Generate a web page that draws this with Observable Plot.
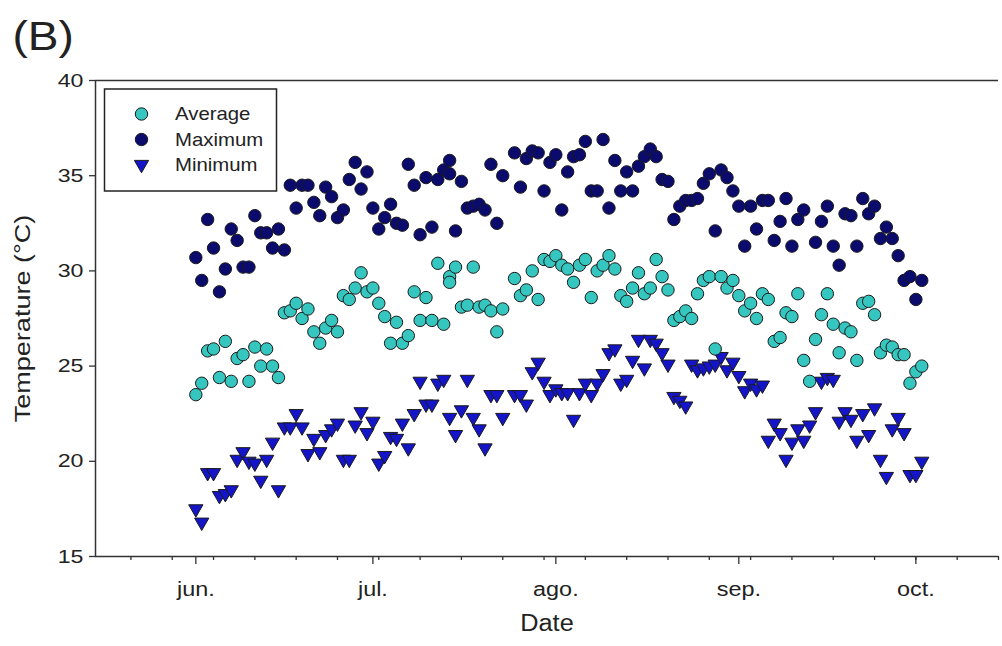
<!DOCTYPE html>
<html>
<head>
<meta charset="utf-8">
<script src="https://cdn.jsdelivr.net/npm/d3@7"></script>
<script src="https://cdn.jsdelivr.net/npm/@observablehq/plot@0.6"></script>
<style>
  html, body { margin: 0; padding: 0; background: #fff; }
  #chart { width: 1002px; height: 646px; }
</style>
</head>
<body>
<div id="chart"></div>
<script>
// ---- data (day offsets from 1 June, values in °C) ----
const startDate = "2018-06-01";
const domainStart = "2018-05-15";
const domainEnd = "2018-10-15";
const monthTicks = ["2018-06-01", "2018-07-01", "2018-08-01", "2018-09-01", "2018-10-01"];
const monthLabels = ["jun.", "jul.", "ago.", "sep.", "oct."];
const yTicks = [15, 20, 25, 30, 35, 40];
const seriesNames = ["Average", "Maximum", "Minimum"];

const maxDays = [0,1,2,3,4,5,6,7,8,9,10,11,12,13,14,15,16,17,18,19,20,21,22,23,24,25,26,27,28,29,30,31,32,33,34,35,36,37,38,39,40,41,42,43,43,44,45,46,47,48,49,50,51,52,
  54,55,56,57,58,59,60,61,62,63,64,65,66,67,68,69,70,71,72,73,74,75,76,77,78,79,80,81,82,83,84,85,86,87,88,89,90,91,92,93,94,95,96,97,98,99,100,101,102,103,
  105,106,107,108,109,110,111,112,113,114,115,116,117,118,119,120,121,122,123];
const maxVals = [30.7,29.5,32.7,31.2,28.9,30.1,32.2,31.6,30.2,30.2,32.9,32.0,32.0,31.2,32.2,31.1,34.5,33.3,34.5,34.5,33.6,32.9,34.4,33.9,32.8,33.2,34.8,35.7,34.3,35.2,33.3,32.2,32.8,33.5,32.5,32.4,35.6,34.5,31.9,34.9,32.3,34.8,35.3,35.8,35.1,32.1,34.7,33.3,33.4,33.5,33.2,35.6,32.5,35.0,
  36.2,34.4,35.9,36.3,36.2,34.2,35.7,36.1,33.2,35.2,36.0,36.1,36.8,34.2,34.2,36.9,33.3,35.8,34.2,35.2,34.2,35.5,36.0,36.4,36.0,34.8,34.7,32.7,33.4,33.7,33.7,33.8,34.6,35.1,32.1,35.3,34.9,34.2,33.4,31.3,33.4,32.2,33.7,33.7,31.6,32.6,33.8,31.3,32.7,33.2,
  31.5,32.6,33.4,31.3,30.3,33.0,32.9,31.3,33.8,33.0,33.4,31.7,32.3,31.7,30.8,29.5,29.7,28.5,29.5];

const avgDays = [0,1,2,3,4,5,6,7,8,9,10,11,12,13,14,15,16,17,18,19,20,21,22,23,24,25,26,27,28,29,30,31,32,33,34,35,36,37,38,39,40,41,42,43,43,44,45,46,47,48,49,50,51,52,
  54,55,56,57,58,59,60,61,62,63,64,65,66,67,68,69,70,71,72,73,74,75,76,77,78,79,80,81,82,83,84,85,86,87,88,89,90,91,92,93,94,95,96,97,98,99,100,101,102,103,
  104,105,106,107,108,109,110,111,112,113,114,115,116,117,118,119,120,121,122,123];
const avgVals = [23.5,24.1,25.8,25.9,24.4,26.3,24.2,25.4,25.6,24.2,26.0,25.0,25.9,25.0,24.4,27.8,27.9,28.3,27.5,28.0,26.8,26.2,27.0,27.4,26.8,28.7,28.5,29.1,29.9,28.9,29.1,28.3,27.6,26.2,27.3,26.2,26.6,28.9,27.4,28.6,27.4,30.4,27.2,29.7,29.4,30.2,28.1,28.2,30.2,28.1,28.2,27.9,26.8,28.0,
  29.6,28.7,29.0,30.0,28.5,30.6,30.5,30.8,30.3,30.1,29.4,30.3,30.6,28.6,30.0,30.3,30.8,30.1,28.7,28.4,29.1,29.9,28.8,29.1,30.6,29.7,29.0,27.4,27.6,27.9,27.5,28.8,29.5,29.7,25.9,29.7,29.1,29.5,28.7,27.9,28.3,27.5,28.8,28.5,26.3,26.5,27.8,27.6,28.8,25.3,
  24.2,26.4,27.7,28.8,27.2,25.7,27.0,26.8,25.3,28.3,28.4,27.7,25.7,26.1,26.0,25.6,25.6,24.1,24.7,25.0];

const minDays = [0,1,2,3,4,5,6,7,8,9,10,11,12,13,14,15,16,17,18,19,20,21,22,23,24,25,26,27,28,29,30,31,32,33,34,35,36,37,38,39,40,41,42,43,44,45,46,47,48,49,50,51,52,
  54,55,56,57,58,59,60,61,62,63,64,65,66,67,68,69,70,71,72,73,74,75,76,77,78,79,80,81,82,83,84,85,86,87,88,89,90,91,92,93,94,95,96,97,98,99,100,101,102,103,
  104,105,106,107,108,109,110,111,112,113,114,115,116,117,118,119,120,121,122,123];
const minVals = [17.5,16.8,19.4,19.4,18.2,18.3,18.5,20.1,20.5,20.0,19.9,19.0,20.1,21.0,18.5,21.8,21.8,22.5,21.8,20.4,21.2,20.5,21.4,21.7,22.0,20.1,20.1,21.9,22.6,21.5,22.1,19.9,20.3,21.3,21.2,22.0,20.7,22.5,24.2,23.0,23.0,24.1,24.3,22.3,21.4,22.7,24.3,22.3,21.7,20.7,23.5,23.5,22.3,
  23.5,23.5,23.0,24.7,25.2,24.2,23.5,23.8,23.6,23.6,22.2,23.6,24.1,23.5,24.1,24.6,25.7,25.9,24.1,24.3,25.3,26.4,24.9,26.4,26.2,25.7,25.1,23.4,23.2,22.9,25.1,24.8,24.9,25.0,25.1,25.5,24.8,25.2,24.5,23.7,24.1,23.8,24.0,21.1,22.0,21.5,20.1,21.0,21.7,21.1,
  21.9,22.6,24.2,24.4,24.3,22.1,22.6,22.2,21.1,22.5,21.4,22.8,20.1,19.2,21.7,22.3,21.5,19.3,19.3,20.0];

// ---- build tables ----
const base = new Date(startDate + "T00:00:00Z").getTime();
const toDate = d => new Date(base + d * 864e5);
const table = (days, vals) => days.map((d, i) => ({date: toDate(d), value: vals[i]}));
const avgData = table(avgDays, avgVals);
const maxData = table(maxDays, maxVals);
const minData = table(minDays, minVals);

const x0 = new Date(domainStart + "T00:00:00Z");
const x1 = new Date(domainEnd + "T00:00:00Z");
const monthDates = monthTicks.map(s => new Date(s + "T00:00:00Z"));
const monthLabelMap = new Map(monthDates.map((d, i) => [+d, monthLabels[i]]));
const weekDates = d3.utcMonday.range(x0, d3.utcDay.offset(x1, 1));

const colors = {avg: "#35c6c0", max: "#0b0b6e", min: "#1414c8", edge: "#1a1a1a"};
const font = "'Liberation Sans', Arial, sans-serif";

const plot = Plot.plot({
  width: 1002,
  height: 646,
  marginLeft: 95,
  marginRight: 4,
  marginTop: 80,
  marginBottom: 90,
  style: {fontFamily: font, background: "#fff", color: "#222"},
  x: {type: "utc", domain: [x0, x1], label: null},
  y: {domain: [15, 40], label: null},
  marks: [
    Plot.ruleY([15, 40], {stroke: "#333", strokeWidth: 1.5}),
    Plot.ruleX([x0], {stroke: "#333", strokeWidth: 1.5}),
    Plot.axisY({ticks: yTicks, tickSize: 6, tickPadding: 6, fontSize: 19, stroke: "#333", strokeWidth: 1.3,
      label: null, className: "ytick"}),
    Plot.axisX({ticks: weekDates, tickSize: 4, tickFormat: () => "", stroke: "#333", strokeWidth: 1.3, label: null}),
    Plot.axisX({ticks: monthDates, tickSize: 8, tickPadding: 18, fontSize: 19.5, tickFormat: d => monthLabelMap.get(+d),
      stroke: "#333", strokeWidth: 1.3, label: null, className: "xtick"}),
    Plot.text(["Date"], {frameAnchor: "bottom", dy: 74, fontSize: 23, fill: "#222", className: "xtitle"}),
    Plot.text(["Temperature (°C)"], {frameAnchor: "left", textAnchor: "middle", dx: -73, rotate: -90,
      fontSize: 22.5, fill: "#222", className: "ytitle"}),
    Plot.text(["(B)"], {frameAnchor: "top-left", dx: -83, dy: -59, fontSize: 40, fill: "#222", className: "ptitle"}),
    Plot.dot(minData, {x: "date", y: "value", symbol: "triangle", rotate: 180, r: 5.3,
      fill: colors.min, stroke: colors.edge, strokeWidth: 1}),
    Plot.dot(avgData, {x: "date", y: "value", r: 6.2, fill: colors.avg, stroke: colors.edge, strokeWidth: 1}),
    Plot.dot(maxData, {x: "date", y: "value", r: 6.2, fill: colors.max, stroke: colors.edge, strokeWidth: 1})
  ]
});

document.getElementById("chart").appendChild(plot);

// ---- legend box ----
const svg = d3.select(plot);
const lg = svg.append("g").attr("class", "legendbox").attr("font-family", font).attr("font-size", 18.5)
  .attr("fill", "#222").attr("text-anchor", "start");
lg.append("rect").attr("x", 104.5).attr("y", 89).attr("width", 172).attr("height", 102)
  .attr("fill", "#fff").attr("stroke", "#222").attr("stroke-width", 1.5);
const rows = [
  {name: seriesNames[0], y: 114, kind: "circle", fill: colors.avg},
  {name: seriesNames[1], y: 139.5, kind: "circle", fill: colors.max},
  {name: seriesNames[2], y: 164.5, kind: "triangle", fill: colors.min}
];
for (const r of rows) {
  if (r.kind === "circle") {
    lg.append("circle").attr("cx", 141.5).attr("cy", r.y).attr("r", 6.2)
      .attr("fill", r.fill).attr("stroke", colors.edge).attr("stroke-width", 1);
  } else {
    lg.append("path").attr("transform", `translate(141.5,${r.y}) rotate(180)`)
      .attr("d", d3.symbol(d3.symbolTriangle, Math.PI * 5.3 * 5.3)())
      .attr("fill", r.fill).attr("stroke", colors.edge).attr("stroke-width", 1);
  }
  lg.append("text").attr("x", 175).attr("y", r.y).attr("dy", "0.35em").text(r.name);
}

// ---- widen glyphs like the reference rendering ----
function stretch(selector, factor) {
  plot.querySelectorAll(selector).forEach(el => {
    const len = el.getComputedTextLength();
    if (len > 0) {
      el.setAttribute("textLength", (len * factor).toFixed(2));
      el.setAttribute("lengthAdjust", "spacingAndGlyphs");
    }
  });
}
stretch(".ytick text", 1.22);
stretch(".xtick text", 1.2);
stretch(".xtitle text", 1.1);
stretch(".ytitle text", 1.2);
stretch(".ptitle text", 1.15);
stretch(".legendbox text", 1.1);
</script>
</body>
</html>
